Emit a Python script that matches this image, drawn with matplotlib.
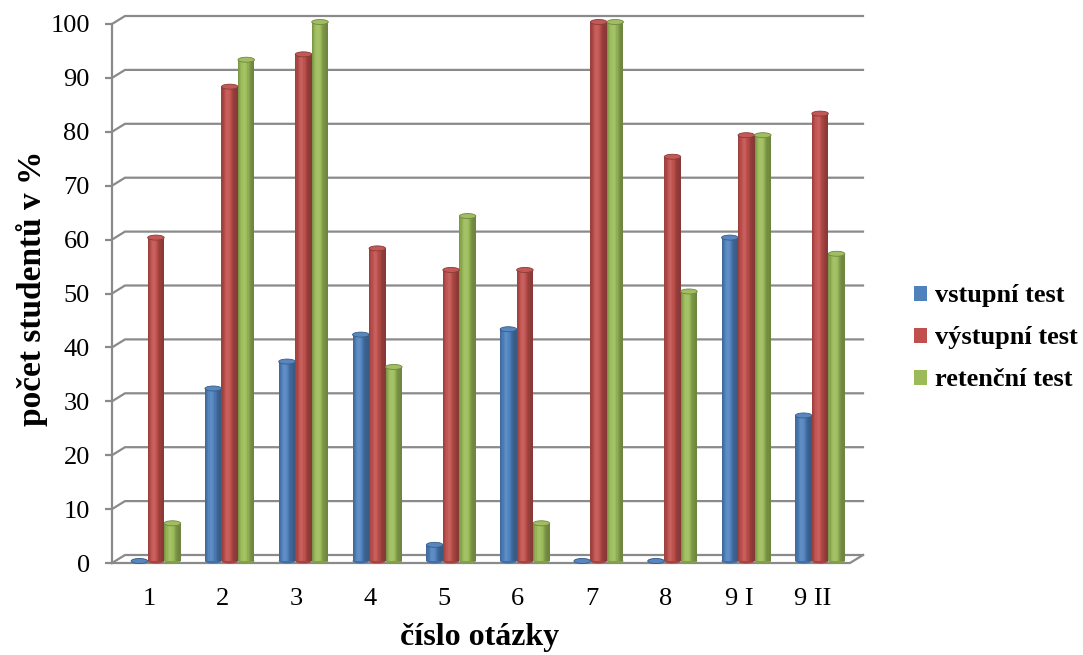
import numpy as np
import matplotlib
matplotlib.use("Agg")
import matplotlib.pyplot as plt
from matplotlib.patches import Ellipse, Patch
from matplotlib.transforms import offset_copy
from matplotlib.colors import to_rgb

categories = ["1", "2", "3", "4", "5", "6", "7", "8", "9 I", "9 II"]
vstupni = [0, 32, 37, 42, 3, 43, 0, 0, 60, 27]
vystupni = [60, 88, 94, 58, 54, 54, 100, 75, 79, 83]
retencni = [7, 93, 100, 36, 64, 7, 100, 50, 79, 57]
series_names = ["vstupní test", "výstupní test", "retenční test"]
series_colors = ["#4F81BD", "#C0504D", "#9BBB59"]
y_ticks = list(range(0, 101, 10))

FIG_W, FIG_H = 1083, 655
fig = plt.figure(figsize=(FIG_W / 100, FIG_H / 100), dpi=100)
ax_l, ax_r, ax_t, ax_b = 112, 850, 24, 563
ax = fig.add_axes([ax_l / FIG_W, 1 - ax_b / FIG_H, (ax_r - ax_l) / FIG_W, (ax_b - ax_t) / FIG_H])
n = len(categories)
ax.set_xlim(-0.5, n - 0.5)
ax.set_ylim(0, 100)

serif = "Liberation Serif"
grid_c = "#8a8a8a"

# depth offsets (pixels -> data)
px_x = (n) / (ax_r - ax_l)
px_y = 100 / (ax_b - ax_t)
dx, dy = 13 * px_x, 8 * px_y

# back wall gridlines + side diagonals
for v in y_ticks:
    ax.plot([-0.5, -0.5 + dx, n - 0.5 + dx], [v, v + dy, v + dy], color=grid_c,
            lw=1.6, clip_on=False, zorder=1, solid_joinstyle="miter")
# floor
ax.plot([-0.5, n - 0.5, n - 0.5 + dx], [0, 0, dy], color=grid_c, lw=1.6,
        clip_on=False, zorder=1, solid_joinstyle="miter")

for s in ["top", "right", "bottom"]:
    ax.spines[s].set_visible(False)
ax.spines["left"].set_color(grid_c)
ax.spines["left"].set_linewidth(1.6)

# cylinder bars
tr = offset_copy(ax.transData, fig=fig, x=7, y=2, units="dots")
w = 16.5 * px_x
N = 14
ts = (np.arange(N) + 0.5) / N
prof = 0.70 + 0.40 * np.exp(-((ts - 0.38) / 0.30) ** 2)
x = np.arange(n)
cap_h = 5 * px_y


def shade(rgb, f):
    rgb = np.array(rgb)
    if f <= 1:
        return tuple(rgb * f)
    return tuple(rgb + (1 - rgb) * (f - 1))


for si, (vals, col) in enumerate(zip([vstupni, vystupni, retencni], series_colors)):
    base = to_rgb(col)
    centers = x + (si - 1) * w
    for xi, v in zip(centers, vals):
        ax.add_patch(Ellipse((xi, 0), w, cap_h, facecolor=shade(base, 0.85),
                             edgecolor="none", transform=tr, zorder=2, clip_on=False))
        for k in range(N):
            xs = xi - w / 2 + (k + 0.5) * w / N
            ax.bar(xs, v, width=w / N * 1.08, color=shade(base, prof[k]),
                   linewidth=0, transform=tr, zorder=3, clip_on=False)
        ax.add_patch(Ellipse((xi, v), w, cap_h, facecolor=shade(base, 1.05),
                             edgecolor=shade(base, 0.72), lw=0.6, transform=tr,
                             zorder=4, clip_on=False))

ax.set_yticks(y_ticks)
ax.set_xticks(x)
ax.set_xticklabels(categories)
ax.tick_params(axis="y", length=5, width=1.6, color=grid_c, pad=11,
               labelsize=19, labelfontfamily=serif)
ax.tick_params(axis="x", length=0, pad=18, labelsize=19, labelfontfamily=serif)

fig.text(32 / FIG_W, 1 - 288 / FIG_H, "počet studentů v %", rotation=90, ha="center",
         va="center", fontsize=24, fontweight="bold", family=serif)
fig.text(480 / FIG_W, 1 - 637 / FIG_H, "číslo otázky", ha="center", va="center",
         fontsize=23, fontweight="bold", family=serif)

handles = [Patch(facecolor=c, edgecolor="none") for c in series_colors]
fig.legend(handles, series_names, loc="center left",
           bbox_to_anchor=(914 / FIG_W, 1 - 338 / FIG_H), frameon=False,
           prop={"family": serif, "weight": "bold", "size": 19},
           handlelength=0.5, handleheight=0.5, handletextpad=0.3, labelspacing=0.72,
           borderaxespad=0, borderpad=0)

fig.savefig("out.png", dpi=100, facecolor="white")
